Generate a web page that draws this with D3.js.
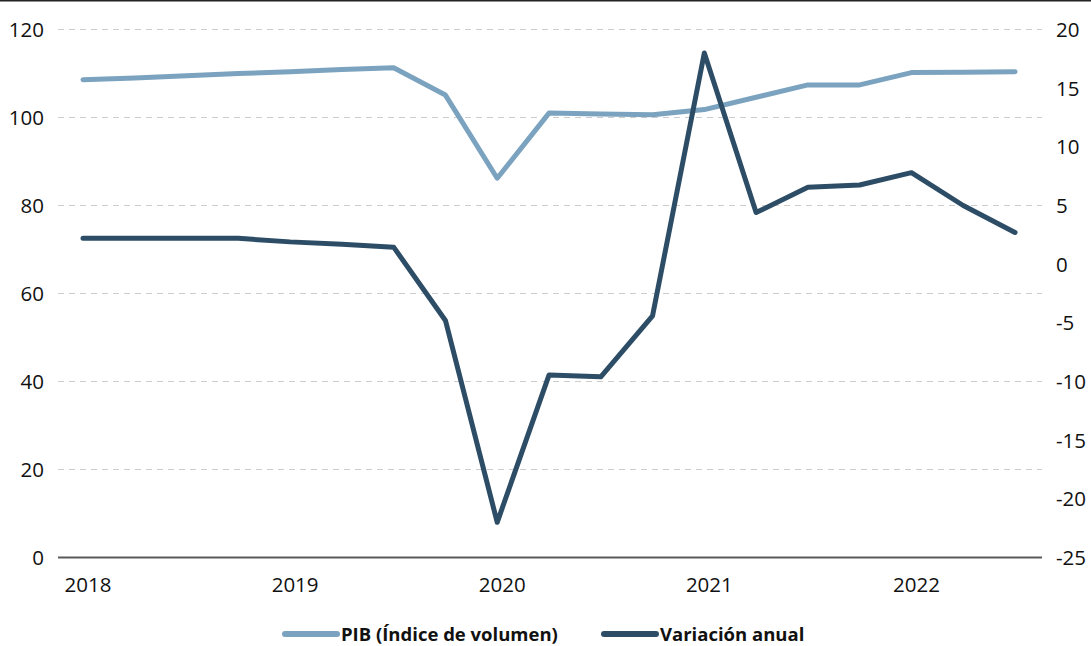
<!DOCTYPE html>
<html>
<head>
<meta charset="utf-8">
<script src="https://cdn.jsdelivr.net/npm/d3@7"></script>
<style>
  body { margin: 0; background: #fff; }
  text { font-family: "Open Sans", "Noto Sans", sans-serif; fill: #111; }
</style>
</head>
<body>
<div id="chart"></div>
<script>
// Quarterly data, 2018Q1 - 2022Q3
const quarters = ["2018T1","2018T2","2018T3","2018T4","2019T1","2019T2","2019T3","2019T4",
  "2020T1","2020T2","2020T3","2020T4","2021T1","2021T2","2021T3","2021T4",
  "2022T1","2022T2","2022T3"];
const pib = [108.6, 109.0, 109.5, 110.0, 110.4, 110.9, 111.3, 105.1,
  86.2, 101.0, 100.8, 100.6, 101.8, 104.6, 107.4, 107.4,
  110.2, 110.3, 110.4];
const variacion = [2.2, 2.2, 2.2, 2.2, 1.9, 1.7, 1.45, -4.8,
  -22.0, -9.45, -9.6, -4.4, 18.0, 4.4, 6.55, 6.75,
  7.8, 5.0, 2.7];
const yearLabels = ["2018", "2019", "2020", "2021", "2022"];
const leftTicks = [0, 20, 40, 60, 80, 100, 120];
const rightTicks = [20, 15, 10, 5, 0, -5, -10, -15, -20, -25];
const seriesNames = ["PIB (Índice de volumen)", "Variación anual"];
const colors = ["#7ba3bf", "#2d4d66"];

const width = 1091, height = 646;

const svg = d3.select("#chart")
  .append("svg")
    .attr("width", width)
    .attr("height", height);

// top border
svg.append("line")
  .attr("x1", 0).attr("x2", width)
  .attr("y1", 0.75).attr("y2", 0.75)
  .attr("stroke", "#222").attr("stroke-width", 1.5);

const x = d3.scaleLinear()
  .domain([0, quarters.length - 1])
  .range([83, 1015]);

const yL = d3.scaleLinear().domain([0, 120]).range([557.5, 29.5]);
const yR = d3.scaleLinear().domain([-25, 20]).range([557.5, 29.5]);

// gridlines
svg.append("g")
  .selectAll("line")
  .data(leftTicks.filter(d => d > 0))
  .join("line")
    .attr("x1", 58).attr("x2", 1042)
    .attr("y1", d => yL(d)).attr("y2", d => yL(d))
    .attr("stroke", "#cccccc")
    .attr("stroke-width", 1)
    .attr("stroke-dasharray", "6,5");

// x axis line
svg.append("line")
  .attr("x1", 58).attr("x2", 1042)
  .attr("y1", yL(0)).attr("y2", yL(0))
  .attr("stroke", "#5a5a5a").attr("stroke-width", 2);

// left axis
svg.append("g")
  .selectAll("text")
  .data(leftTicks)
  .join("text")
    .attr("x", 44)
    .attr("y", d => yL(d))
    .attr("dy", "0.36em")
    .attr("text-anchor", "end")
    .style("font-size", "20.5px")
    .text(d => d);

// right axis
svg.append("g")
  .selectAll("text")
  .data(rightTicks)
  .join("text")
    .attr("x", 1056)
    .attr("y", d => yR(d))
    .attr("dy", "0.36em")
    .attr("text-anchor", "start")
    .style("font-size", "20.5px")
    .text(d => d);

// year labels
svg.append("g")
  .selectAll("text")
  .data(yearLabels)
  .join("text")
    .attr("x", (d, i) => x(i * 4) + 5)
    .attr("y", 585)
    .attr("dy", "0.36em")
    .attr("text-anchor", "middle")
    .style("font-size", "20.5px")
    .text(d => d);

// lines
const lineL = d3.line().x((d, i) => x(i)).y(d => yL(d));
const lineR = d3.line().x((d, i) => x(i)).y(d => yR(d));

svg.append("path")
  .datum(pib)
  .attr("d", lineL)
  .attr("fill", "none")
  .attr("stroke", colors[0])
  .attr("stroke-width", 5)
  .attr("stroke-linejoin", "round")
  .attr("stroke-linecap", "round");

svg.append("path")
  .datum(variacion)
  .attr("d", lineR)
  .attr("fill", "none")
  .attr("stroke", colors[1])
  .attr("stroke-width", 5)
  .attr("stroke-linejoin", "round")
  .attr("stroke-linecap", "round");

// legend
const legendX = [285, 604];
const legend = svg.append("g")
  .selectAll("g")
  .data(seriesNames)
  .join("g")
    .attr("transform", (d, i) => `translate(${legendX[i]},634)`);

legend.append("line")
  .attr("x1", 0).attr("x2", 52)
  .attr("stroke", (d, i) => colors[i])
  .attr("stroke-width", 6)
  .attr("stroke-linecap", "round");

legend.append("text")
  .attr("x", 56)
  .attr("dy", "0.36em")
  .style("font-size", "18.5px")
  .style("font-weight", "bold")
  .text(d => d);
</script>
</body>
</html>
